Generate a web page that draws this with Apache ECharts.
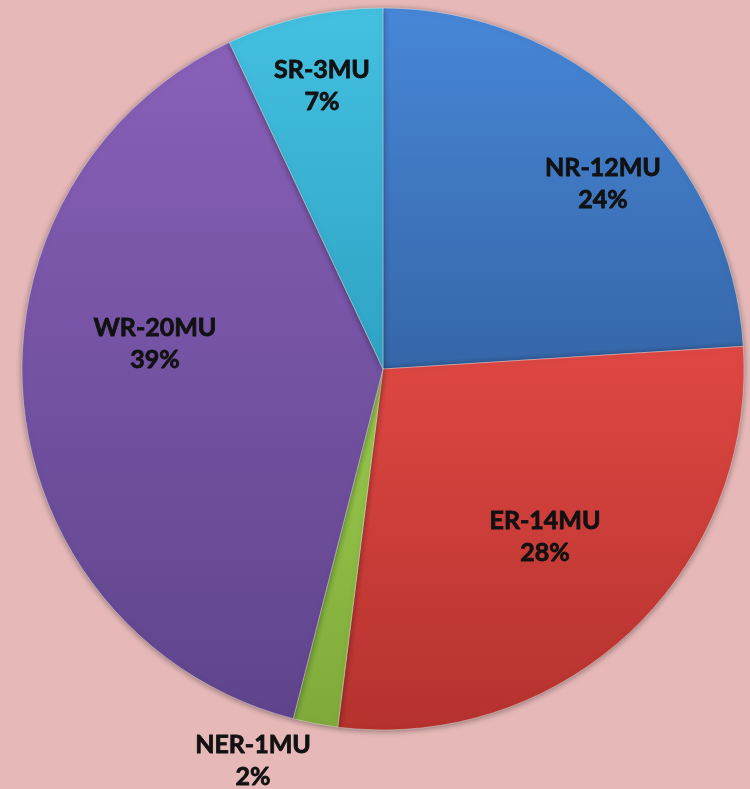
<!DOCTYPE html>
<html>
<head>
<meta charset="utf-8">
<script src="https://cdn.jsdelivr.net/npm/echarts@6/dist/echarts.min.js"></script>
<style>
  html, body { margin: 0; padding: 0; background: #e6b9b8; }
  #main { width: 750px; height: 789px; }
</style>
</head>
<body>
<div id="main"></div>
<script>
// regions, MU count, share (%)
var regions = ['NR', 'ER', 'NER', 'WR', 'SR'];
var mu = [12, 14, 1, 20, 3];
var share = [24, 28, 2, 39, 7];

var topColors = ['#4787d7', '#df4843', '#9acb4e', '#8860b8', '#44c0e0'];
var bottomColors = ['#3666a8', '#b5322e', '#7faa3a', '#5f448c', '#2fa3c4'];

// label centers (Excel placed them by hand)
var labelAt = [[603, 184], [545, 537], [253, 761], [155, 344], [322, 86]];

var myChart = echarts.init(document.getElementById('main'));

var data = [];
for (let i = 0; i < regions.length; i++) {
    data.push({
        name: regions[i] + '-' + mu[i] + 'MU',
        value: share[i],
        itemStyle: {
            color: new echarts.graphic.LinearGradient(0, 0, 0, 1, [
                {offset: 0, color: topColors[i]},
                {offset: 1, color: bottomColors[i]}
            ])
        }
    });
}

var option = {
    backgroundColor: '#e6b9b8',
    series: [{
        type: 'pie',
        center: [383, 369],
        radius: 361,
        startAngle: 90,
        clockwise: true,
        animation: false,
        avoidLabelOverlap: false,
        itemStyle: {
            borderColor: 'rgba(255,255,255,0.35)',
            borderWidth: 1,
            shadowBlur: 6,
            shadowColor: 'rgba(0,0,0,0.4)',
            shadowOffsetY: 1
        },
        label: {
            show: true,
            position: 'inside',
            formatter: '{b}\n{d}%',
            fontFamily: 'Lato',
            fontWeight: 'bold',
            fontSize: 25,
            lineHeight: 32,
            color: '#111',
            textBorderColor: '#111',
            textBorderWidth: 0.8,
            align: 'center'
        },
        labelLine: { show: false },
        labelLayout: function (p) {
            var pos = labelAt[p.dataIndex];
            return {
                x: pos[0],
                y: pos[1],
                align: 'center',
                verticalAlign: 'middle'
            };
        },
        data: data
    }]
};
myChart.setOption(option);
</script>
</body>
</html>
